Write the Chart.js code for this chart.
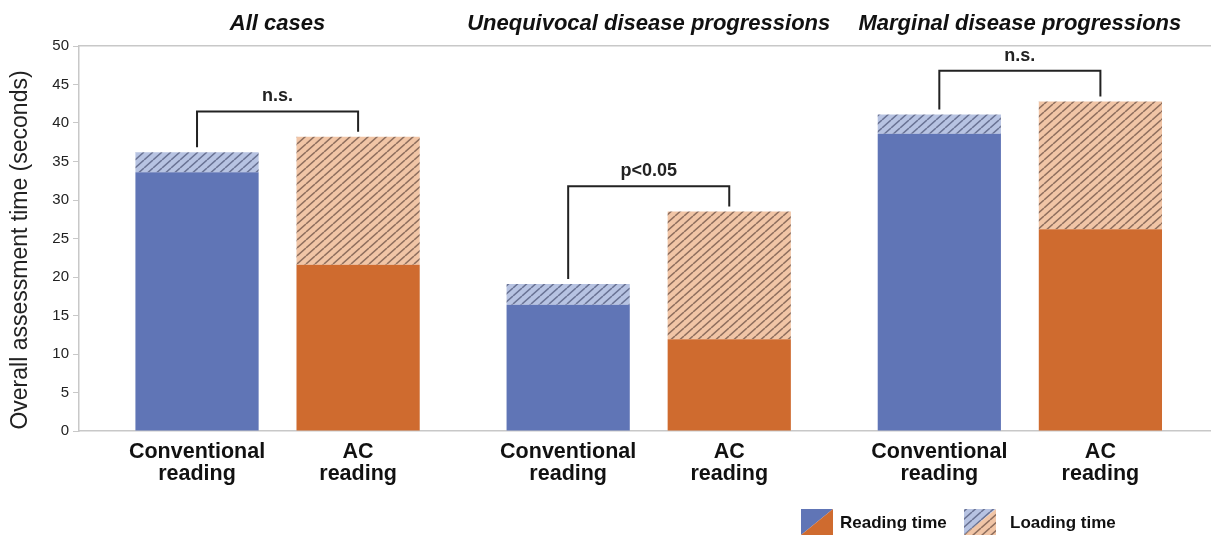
<!DOCTYPE html>
<html>
<head>
<meta charset="utf-8">
<script src="https://cdn.jsdelivr.net/npm/chart.js@4"></script>
<style>
  body { margin: 0; background: #fff; }
  #wrap { width: 1211px; height: 535px; }
</style>
</head>
<body>
<div id="wrap"><canvas id="chart"></canvas></div>
<script>
// groups along the x axis
const groups = ["All cases", "Unequivocal disease progressions", "Marginal disease progressions"];
// conventional reading (seconds)
const convReading = [33.6, 16.4, 38.6];
const convLoading = [2.6, 2.7, 2.5];
// AC reading (seconds)
const acReading = [21.6, 11.9, 26.2];
const acLoading = [16.6, 16.6, 16.6];
// significance brackets
const bracketLevels = [41.5, 31.8, 46.8];
const bracketTexts = ["n.s.", "p<0.05", "n.s."];
// labels under the bars
const barLabels = { conv: ["Conventional", "reading"], ac: ["AC", "reading"] };
const yTicks = { min: 0, max: 50, step: 5 };
const yTitle = "Overall assessment time (seconds)";

const BLUE = "#6075b6";
const ORANGE = "#cf6b2f";
const FONT = "'Liberation Sans', Arial, sans-serif";
const X_MIN = -0.535, X_MAX = 2.515;

//make diagonal hatch pattern
function hatch(bg, line) {
  const w = 9, h = 8;
  const c = document.createElement("canvas");
  c.width = w; c.height = h;
  const g = c.getContext("2d");
  g.fillStyle = bg;
  g.fillRect(0, 0, w, h);
  g.strokeStyle = line;
  g.lineWidth = 1.5;
  g.beginPath();
  for (const dx of [-w, 0, w]) {
    g.moveTo(dx, h); g.lineTo(dx + w, 0);
  }
  g.stroke();
  return g.createPattern(c, "repeat");
}
const ctx0 = document.getElementById("chart").getContext("2d");
const blueHatch = hatch("#b7c3e2", "#6a7394");
const orangeHatch = hatch("#f1c5a6", "#8f6f5e");

const toPts = (arr) => arr.map((v, i) => ({ x: i, y: v }));

//titles, brackets, bar labels, y title and legend
const extras = {
  id: "extras",
  afterDatasetsDraw(chart) {
    const ctx = chart.ctx;
    const x = chart.scales.x;
    const y = chart.scales.y;
    const convTop = chart.getDatasetMeta(1).data;
    const acTop = chart.getDatasetMeta(3).data;
    const convBars = chart.getDatasetMeta(0).data;
    const acBars = chart.getDatasetMeta(2).data;
    ctx.save();
    ctx.textAlign = "center";
    ctx.textBaseline = "middle";
    // group titles
    ctx.fillStyle = "#111";
    ctx.font = "italic bold 22px " + FONT;
    groups.forEach((g, i) => ctx.fillText(g, x.getPixelForValue(i), 24));
    // brackets
    ctx.strokeStyle = "#222";
    ctx.lineWidth = 2;
    ctx.fillStyle = "#222";
    ctx.font = "bold 18px " + FONT;
    bracketLevels.forEach((lvl, i) => {
      const yl = y.getPixelForValue(lvl);
      const x1 = convTop[i].x, x2 = acTop[i].x;
      ctx.beginPath();
      ctx.moveTo(x1, convTop[i].y - 5);
      ctx.lineTo(x1, yl);
      ctx.lineTo(x2, yl);
      ctx.lineTo(x2, acTop[i].y - 5);
      ctx.stroke();
      ctx.fillText(bracketTexts[i], (x1 + x2) / 2, yl - 15);
    });
    // bar labels
    ctx.font = "bold 21.5px " + FONT;
    ctx.fillStyle = "#111";
    const base = chart.chartArea.bottom;
    groups.forEach((g, i) => {
      barLabels.conv.forEach((t, k) => ctx.fillText(t, convBars[i].x, base + 21 + k * 22));
      barLabels.ac.forEach((t, k) => ctx.fillText(t, acBars[i].x, base + 21 + k * 22));
    });
    // y title
    ctx.save();
    ctx.translate(21, 250);
    ctx.rotate(-Math.PI / 2);
    ctx.font = "23px " + FONT;
    ctx.fillStyle = "#222";
    ctx.fillText(yTitle, 0, 0);
    ctx.restore();
    // legend
    const sw = (x0, top, bot) => {
      ctx.fillStyle = top;
      ctx.beginPath(); ctx.moveTo(x0, 509); ctx.lineTo(x0 + 32, 509); ctx.lineTo(x0, 535); ctx.closePath(); ctx.fill();
      ctx.fillStyle = bot;
      ctx.beginPath(); ctx.moveTo(x0 + 32, 509); ctx.lineTo(x0 + 32, 535); ctx.lineTo(x0, 535); ctx.closePath(); ctx.fill();
    };
    sw(801, BLUE, ORANGE);
    sw(964, blueHatch, orangeHatch);
    ctx.fillStyle = "#111";
    ctx.font = "bold 17px " + FONT;
    ctx.textAlign = "left";
    ctx.fillText("Reading time", 840, 523);
    ctx.fillText("Loading time", 1010, 523);
    ctx.restore();
  }
};

new Chart(ctx0, {
  type: "bar",
  plugins: [extras],
  data: {
    datasets: [
      { label: "Conventional reading", data: toPts(convReading), backgroundColor: BLUE, stack: "conv" },
      { label: "Conventional loading", data: toPts(convLoading), backgroundColor: blueHatch, stack: "conv" },
      { label: "AC reading", data: toPts(acReading), backgroundColor: ORANGE, stack: "ac" },
      { label: "AC loading", data: toPts(acLoading), backgroundColor: orangeHatch, stack: "ac" },
    ],
  },
  options: {
    responsive: true,
    maintainAspectRatio: false,
    animation: false,
    layout: { padding: 0 },
    categoryPercentage: 0.868,
    barPercentage: 0.765,
    plugins: { legend: { display: false }, tooltip: { enabled: false } },
    scales: {
      x: {
        type: "linear",
        stacked: true,
        offset: false,
        min: X_MIN,
        max: X_MAX,
        ticks: { display: false, stepSize: 1, includeBounds: false },
        grid: { display: false, offset: false },
        border: { color: "#c8c8c8", width: 1.5 },
        afterFit: (s) => { s.height = 104; s.paddingLeft = 0; s.paddingRight = 0; },
      },
      xTop: {
        type: "linear",
        position: "top",
        offset: false,
        min: X_MIN,
        max: X_MAX,
        grid: { display: false, drawTicks: false },
        border: { color: "#c8c8c8", width: 1.5 },
        ticks: { display: false, stepSize: 1, includeBounds: false },
        afterFit: (s) => { s.height = 46; s.paddingLeft = 0; s.paddingRight = 0; },
      },
      y: {
        stacked: true,
        min: yTicks.min,
        max: yTicks.max,
        ticks: { stepSize: yTicks.step, color: "#222", padding: 4, font: { family: FONT, size: 15 } },
        grid: { drawOnChartArea: false, tickLength: 6, color: "#c8c8c8" },
        border: { color: "#c8c8c8", width: 1.5 },
        afterFit: (s) => { s.width = 79; },
      },
    },
  },
});
</script>
</body>
</html>
